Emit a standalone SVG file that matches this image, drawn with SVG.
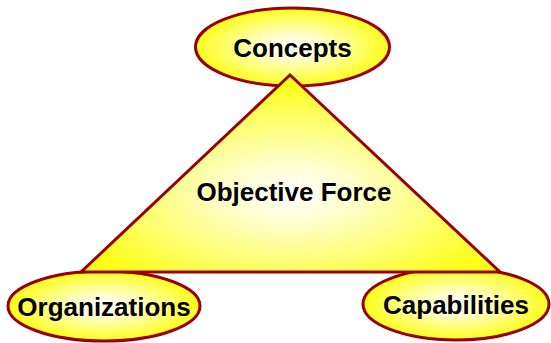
<svg xmlns="http://www.w3.org/2000/svg" width="551" height="343" viewBox="0 0 551 343">
<style>
.shape{stroke:#9b0000;stroke-width:3;stroke-linejoin:miter}
.lbl{font-family:"Liberation Sans",Arial,sans-serif;font-weight:bold;font-size:26px;fill:#000;text-anchor:middle;dominant-baseline:central}
</style>
<defs>
<radialGradient id="g" cx="50%" cy="50%" r="50%">
<stop offset="0" stop-color="#ffffff"/>
<stop offset="0.3" stop-color="#ffffd0"/>
<stop offset="1" stop-color="#ffff1a"/>
</radialGradient>
<radialGradient id="gt" cx="50%" cy="60%" r="55%">
<stop offset="0" stop-color="#ffffff"/>
<stop offset="0.3" stop-color="#ffffc8"/>
<stop offset="1" stop-color="#ffff1a"/>
</radialGradient>
</defs>
<rect width="551" height="343" fill="#fff"/>
<g id="concepts">
<ellipse class="shape" cx="292.5" cy="47" rx="97" ry="39" fill="url(#g)"/>
<text class="lbl" x="292.5" y="48">Concepts</text>
</g>
<g id="organizations">
<ellipse class="shape" cx="104" cy="306" rx="96" ry="35" fill="url(#g)"/>
<text class="lbl" x="104" y="307">Organizations</text>
</g>
<g id="capabilities">
<ellipse class="shape" cx="456" cy="304" rx="93" ry="36" fill="url(#g)"/>
<text class="lbl" x="456" y="305">Capabilities</text>
</g>
<g id="objective-force">
<polygon class="shape" points="290,75 81,272 500,272" fill="url(#gt)"/>
<text class="lbl" x="294" y="192">Objective Force</text>
</g>
</svg>
